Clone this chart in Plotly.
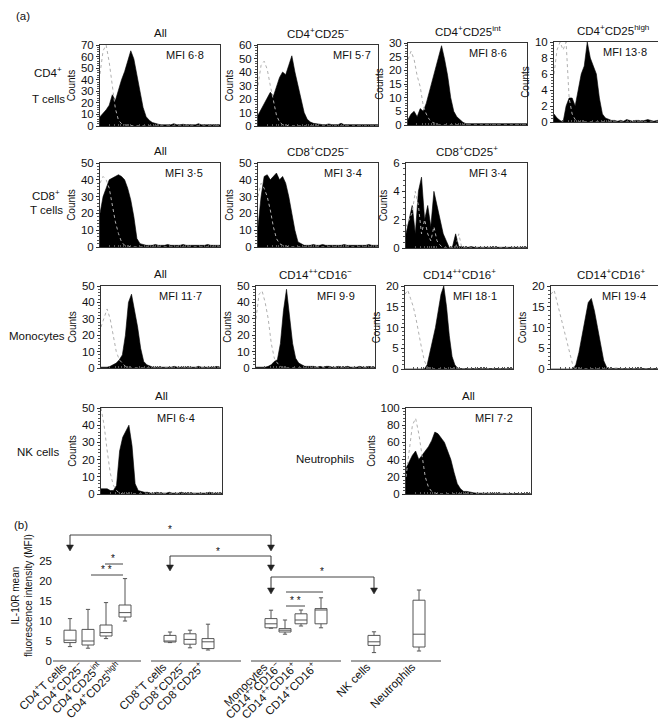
import numpy as np
import plotly.graph_objects as go

W, H = 666, 724
FONT = "Liberation Sans, Arial, sans-serif"

# ---------------- DATA: histograms (40 channels each, counts) ----------------
cd4_all_black = [8,11,14,18,27,22,32,40,47,55,65,58,45,30,16,8,5,3,2,1.5,1,1,1.5,1,2,1,1,1.5,1,1,1,1,2,1,1,1,1.5,1,1,1]
cd4_all_iso = [45,65,70,55,35,15,5,2,1,0.5,0,0,0,0,0,0,0,0,0,0,0,0,0,0,0,0,0,0,0,0,0,0,0,0,0,0,0,0,0,0]
cd4_neg_black = [8,12,16,20,25,22,30,36,40,38,45,52,40,30,18,10,5,3,2,1.5,1,1,1,1.5,1,1,1,2,1,1,1,1.5,1,1,1,1,1,1.5,1,1]
cd4_neg_iso = [30,45,48,42,30,18,8,3,1,0.5,0,0,0,0,0,0,0,0,0,0,0,0,0,0,0,0,0,0,0,0,0,0,0,0,0,0,0,0,0,0]
cd4_int_black = [2,4,5,3,6,5,8,12,16,20,25,29,24,18,10,5,3,2,1,0.5,0.5,0.5,0.3,0.5,0.5,0.3,0.5,0.5,0.3,0.5,0.5,0.3,0.5,0.5,0.5,0.3,0.5,0.5,0.5,0.5]
cd4_int_iso = [24,27,24,18,14,7,4,2,1,0.5,0,0,0,0,0,0,0,0,0,0,0,0,0,0,0,0,0,0,0,0,0,0,0,0,0,0,0,0,0,0]
cd4_high_black = [1,0.5,0.2,0,2,3,3,2,4,6,7,10,8,7,6,3,1,0.5,0.3,0.2,0.2,0.1,0.2,0.1,0.3,0.2,0.1,0.2,0.2,0.1,0.2,0.3,0.2,0.1,0.2,0.2,0.1,0.2,0.2,0.2]
cd4_high_iso = [6,9,10,9,10,3,1,0.3,0,0,0,0,0,0,0,0,0,0,0,0,0,0,0,0,0,0,0,0,0,0,0,0,0,0,0,0,0,0,0,0]
cd8_all_black = [20,30,35,40,41,42,43,42,40,35,28,18,5,2,1.5,1,1,1,1.5,1,1,1,1.5,1,1,1,1,1.5,1,1,1,1,1,1,1,1.5,1,1,1,1]
cd8_all_iso = [38,42,40,35,25,15,8,3,1,0.5,0,0,0,0,0,0,0,0,0,0,0,0,0,0,0,0,0,0,0,0,0,0,0,0,0,0,0,0,0,0]
cd8_neg_black = [12,30,42,43,40,42,44,40,42,38,30,20,10,3,2,1,1,1,1.5,1,1,1.5,1,1,1,1,1,1,1.5,1,1,1,1,1,1,1,1.5,1,1,1]
cd8_neg_iso = [30,38,35,30,22,12,5,2,1,0.5,0,0,0,0,0,0,0,0,0,0,0,0,0,0,0,0,0,0,0,0,0,0,0,0,0,0,0,0,0,0]
cd8_pos_black = [1,2,3,1,4,5,2,3,1.5,4,3,2,1,0.5,0,0.1,1,0.1,0.05,0.05,0.05,0.1,0.05,0.05,0.05,0.1,0.05,0.05,0.1,0.05,0.05,0.1,0.05,0.1,0.05,0.05,0.05,0.05,0.05,0.05]
cd8_pos_iso = [1.5,2,2.5,4,3,1,2,1,0.5,1.5,0.5,0.2,0,0,0,0,0,1,0,0,0,0,0,0,0,0,0,0,0,0,0,0,0,0,0,0,0,0,0,0]
mono_all_black = [0.5,0.5,0.5,1,2,3,5,8,20,40,45,35,25,12,4,2,1,0.5,0.5,0.5,0.5,0.5,0.5,0.5,1,0.5,0.5,0.5,0.5,0.5,0.5,0.5,1,0.5,0.5,0.5,0.5,0.5,1,0.5]
mono_all_iso = [25,30,36,30,20,10,5,3,1,0.5,0,0,0,0,0,0,0,0,0,0,0,0,0,0,0,0,0,0,0,0,0,0,0,0,0,0,0,0,0,0]
cd14pp16n_black = [0.5,0.5,0.5,0.5,1,2,4,5,15,35,48,30,15,6,3,2,1,1,1,1,0.5,1,0.5,1,1,0.5,0.5,1,0.5,0.5,1,0.5,0.5,0.5,1,0.5,0.5,1,0.5,0.5]
cd14pp16n_iso = [30,45,47,40,30,15,6,3,1,0.5,0,0,0,0,0,0,0,0,0,0,0,0,0,0,0,0,0,0,0,0,0,0,0,0,0,0,0,0,0,0]
cd14pp16p_black = [0,0,0,0,0,0,0,0,1,4,7,10,14,18,20,15,8,3,1,0.2,0.1,0.1,0.2,0.1,0.1,0.1,0.2,0.1,0.1,0.1,0.1,0.2,0.1,0.1,0.1,0.1,0.1,0.2,0.1,0.1]
cd14pp16p_iso = [18,19,17,15,12,8,5,2,0.5,0,0,0,0,0,0,0,0,0,0,0,0,0,0,0,0,0,0,0,0,0,0,0,0,0,0,0,0,0,0,0]
cd14p16p_black = [0,0,0,0,0,0,0,0,1,4,8,12,16,17,14,10,6,2,0.3,0.1,0.1,0.2,0.1,0.1,0.2,0.1,0.1,0.1,0.2,0.1,0.1,0.1,0.2,0.1,0.1,0.1,0.2,0.1,0.1,0.1]
cd14p16p_iso = [18,19,16,13,10,7,4,1,0,0,0,0,0,0,0,0,0,0,0,0,0,0,0,0,0,0,0,0,0,0,0,0,0,0,0,0,0,0,0,0]
nk_all_black = [3,3,3,2,2,5,25,33,37,40,28,6,2,1.5,1,1,0.5,0.5,1,0.5,0.5,0.5,1,0.5,0.5,0.5,1,0.5,0.5,0.5,0.5,0.5,0.5,0.5,0.5,1,0.5,0.5,0.5,0.5]
nk_all_iso = [50,40,25,12,5,2,0.5,0,0,0,0,0,0,0,0,0,0,0,0,0,0,0,0,0,0,0,0,0,0,0,0,0,0,0,0,0,0,0,0,0]
neut_all_black = [30,38,45,50,40,45,50,55,62,72,70,65,60,50,40,25,12,6,3,3,2,1.5,1,1,1,1,1,0.5,1,0.5,0.5,1,0.5,0.5,0.5,1,0.5,0.5,0.5,0.5]
neut_all_iso = [20,50,80,88,70,45,20,8,3,1,0,0,0,0,0,0,0,0,0,0,0,0,0,0,0,0,0,0,0,0,0,0,0,0,0,0,0,0,0,0]

hist_titles = ["All", "CD4<sup>+</sup>CD25<sup>−</sup>", "CD4<sup>+</sup>CD25<sup>int</sup>", "CD4<sup>+</sup>CD25<sup>high</sup>",
               "All", "CD8<sup>+</sup>CD25<sup>−</sup>", "CD8<sup>+</sup>CD25<sup>+</sup>",
               "All", "CD14<sup>++</sup>CD16<sup>−</sup>", "CD14<sup>++</sup>CD16<sup>+</sup>", "CD14<sup>+</sup>CD16<sup>+</sup>",
               "All", "All"]
mfi_values = ["6·8", "5·7", "8·6", "13·8", "3·5", "3·4", "3·4", "11·7", "9·9", "18·1", "19·4", "6·4", "7·2"]
hist_black = [cd4_all_black, cd4_neg_black, cd4_int_black, cd4_high_black, cd8_all_black, cd8_neg_black, cd8_pos_black,
              mono_all_black, cd14pp16n_black, cd14pp16p_black, cd14p16p_black, nk_all_black, neut_all_black]
hist_iso = [cd4_all_iso, cd4_neg_iso, cd4_int_iso, cd4_high_iso, cd8_all_iso, cd8_neg_iso, cd8_pos_iso,
            mono_all_iso, cd14pp16n_iso, cd14pp16p_iso, cd14p16p_iso, nk_all_iso, neut_all_iso]
y_max = [70, 60, 30, 10, 50, 50, 6, 50, 50, 20, 20, 50, 100]
y_dtick = [10, 10, 5, 2, 10, 10, 2, 10, 10, 5, 5, 10, 20]

# ---------------- DATA: box plot (b) ----------------
box_labels = ["CD4<sup>+</sup>T cells", "CD4<sup>+</sup>CD25<sup>−</sup>", "CD4<sup>+</sup>CD25<sup>int</sup>", "CD4<sup>+</sup>CD25<sup>high</sup>",
              "CD8<sup>+</sup>T cells", "CD8<sup>+</sup>CD25<sup>−</sup>", "CD8<sup>+</sup>CD25<sup>+</sup>",
              "Monocytes", "CD14<sup>++</sup>CD16<sup>−</sup>", "CD14<sup>++</sup>CD16<sup>+</sup>", "CD14<sup>+</sup>CD16<sup>+</sup>",
              "NK cells", "Neutrophils"]
box_low = [3.6, 3.2, 5.6, 10.0, 4.6, 3.3, 2.75, 8.2, 6.7, 8.75, 8.3, 2.1, 2.5]
box_q1 = [4.6, 4.0, 6.25, 11.0, 4.75, 4.2, 3.1, 8.3, 7.25, 9.3, 9.3, 3.9, 3.5]
box_med = [5.2, 5.0, 7.1, 12.1, 5.0, 5.4, 4.8, 9.3, 7.7, 10.25, 12.75, 4.8, 6.7]
box_q3 = [7.7, 7.9, 9.0, 14.0, 6.4, 6.8, 5.6, 10.6, 8.1, 11.8, 13.1, 6.4, 15.2]
box_high = [10.6, 12.9, 14.6, 20.6, 7.25, 7.7, 9.2, 12.7, 10.25, 12.75, 15.8, 7.3, 17.75]
y_ticks_b = [0, 5, 10, 15, 20, 25]

# ---------------- LAYOUT (pixel boxes: left, right, top, bottom) ----------------
hist_boxes = [(92, 212, 37, 118), (250, 370, 37, 118), (400, 519, 35, 117), (546, 664, 34, 114),
              (92, 212, 155, 239), (250, 370, 155, 239), (398, 519, 155, 240),
              (93, 212, 278, 360), (248, 367, 278, 360), (397, 505, 278, 361), (543, 664, 278, 361),
              (93, 214, 400, 486), (398, 523, 400, 486)]
mfi_xfrac = [0.71, 0.78, 0.67, 0.60, 0.70, 0.71, 0.68, 0.67, 0.67, 0.65, 0.60, 0.62, 0.70]
box_pos = [62, 80, 98, 117, 162, 182, 200, 263, 277, 293, 313, 366, 411]
group_lines = [(45, 133), (143, 233), (243, 333), (343, 433)]


def dom_x(a, b):
    return [a / W, b / W]


def dom_y(t, b):
    return [1 - b / H, 1 - t / H]


fig = go.Figure()
layout = {}
annotations = []
shapes = []

n_ch = len(cd4_all_black)
chan = np.arange(n_ch)
decade = (n_ch - 1) / 4.0
log_ticks = [d * decade + decade * np.log10(k) for d in range(4) for k in range(1, 10)] + [n_ch - 1]

for i, (l, r, t, b) in enumerate(hist_boxes):
    k = i + 1
    xa = "x" if k == 1 else f"x{k}"
    ya = "y" if k == 1 else f"y{k}"
    fig.add_trace(go.Scatter(x=chan, y=hist_black[i], mode="lines", fill="tozeroy",
                             fillcolor="black", line=dict(color="black", width=0.6),
                             xaxis=xa, yaxis=ya, showlegend=False, hoverinfo="skip"))
    fig.add_trace(go.Scatter(x=chan, y=hist_iso[i], mode="lines",
                             line=dict(color="#b0b0b0", width=1, dash="dot"),
                             xaxis=xa, yaxis=ya, showlegend=False, hoverinfo="skip"))
    layout["xaxis" if k == 1 else f"xaxis{k}"] = dict(
        domain=dom_x(l, r), anchor=ya, range=[0, n_ch - 1], showgrid=False, zeroline=False,
        showline=True, mirror=True, linecolor="#333", linewidth=1, automargin=False,
        tickvals=log_ticks, ticks="inside", ticklen=2, tickcolor="#555", showticklabels=False)
    layout["yaxis" if k == 1 else f"yaxis{k}"] = dict(
        domain=dom_y(t, b), anchor=xa, range=[0, y_max[i]], dtick=y_dtick[i], showgrid=False,
        zeroline=False, showline=True, mirror=True, linecolor="#333", linewidth=1, automargin=False,
        ticks="outside", ticklen=3, tickcolor="#333",
        minor=dict(ticks="outside", ticklen=2, dtick=y_dtick[i] / 5, tickcolor="#555"),
        tickfont=dict(size=11.5, color="#111"),
        title=dict(text="Counts", font=dict(size=10, color="#111"), standoff=3))
    annotations.append(dict(text=hist_titles[i], xref="paper", yref="paper",
                            x=(l + r) / 2 / W, y=1 - (t - 12) / H, showarrow=False,
                            font=dict(size=11.5, color="#111"), xanchor="center", yanchor="middle"))
    annotations.append(dict(text="MFI " + mfi_values[i], xref=f"{xa} domain", yref=f"{ya} domain",
                            x=mfi_xfrac[i], y=0.88, showarrow=False,
                            font=dict(size=11, color="#111"), xanchor="center", yanchor="middle"))


def ptext(txt, x, y, size=11.5, angle=0, xanchor="center"):
    annotations.append(dict(text=txt, xref="paper", yref="paper", x=x / W, y=1 - y / H,
                            showarrow=False, font=dict(size=size, color="#111"),
                            xanchor=xanchor, yanchor="middle", textangle=angle))


ptext("(a)", 6, 8, xanchor="left")
ptext("CD4<sup>+</sup>", 40, 64)
ptext("T cells", 40, 91)
ptext("CD8<sup>+</sup>", 38, 187)
ptext("T cells", 38, 202)
ptext("Monocytes", 29, 328)
ptext("NK cells", 30, 444)
ptext("Neutrophils", 317, 451)
ptext("(b)", 4, 517, xanchor="left")

# ---------------- Panel (b) ----------------
kb = 14
fig.add_trace(go.Box(x=box_pos, q1=box_q1, median=box_med, q3=box_q3,
                     lowerfence=box_low, upperfence=box_high, width=12, whiskerwidth=0.35,
                     line=dict(color="#555", width=1), fillcolor="white",
                     xaxis=f"x{kb}", yaxis=f"y{kb}", showlegend=False, hoverinfo="skip",
                     boxpoints=False))

b_top, b_bot = 515, 656
y0px = 653
ppu = 4.0
layout[f"xaxis{kb}"] = dict(domain=dom_x(45, 440), anchor=f"y{kb}", range=[45, 440], automargin=False,
                            showgrid=False, zeroline=False, showline=False,
                            tickvals=box_pos, ticktext=box_labels, tickangle=-45, ticks="",
                            ticklabelstandoff=-7, ticklabelshift=-7,
                            tickfont=dict(size=11.5, color="#111"))
layout[f"yaxis{kb}"] = dict(domain=dom_y(b_top, b_bot), anchor=f"x{kb}", automargin=False,
                            range=[(y0px - b_bot) / ppu, (y0px - b_top) / ppu],
                            showgrid=False, zeroline=False, showline=False,
                            tickvals=y_ticks_b, ticks="", tickfont=dict(size=11.5, color="#111"))


def v(p):
    return (y0px - p) / ppu


def hline(xa, xb, yp):
    shapes.append(dict(type="line", xref=f"x{kb}", yref=f"y{kb}", x0=xa, x1=xb, y0=v(yp), y1=v(yp),
                       line=dict(color="#444", width=1)))


for a, bb in group_lines:
    shapes.append(dict(type="line", xref=f"x{kb}", yref=f"y{kb}", x0=a, x1=bb, y0=0, y1=0,
                       line=dict(color="#444", width=1)))


def arrow(xx, top, tip):
    shapes.append(dict(type="line", xref=f"x{kb}", yref=f"y{kb}", x0=xx, x1=xx, y0=v(top), y1=v(tip - 5),
                       line=dict(color="#333", width=1)))
    path = f"M {xx-3.5},{v(tip-6)} L {xx+3.5},{v(tip-6)} L {xx},{v(tip)} Z"
    shapes.append(dict(type="path", xref=f"x{kb}", yref=f"y{kb}", path=path,
                       fillcolor="#222", line=dict(color="#222", width=0.5)))


def star(txt, sx, sy):
    annotations.append(dict(x=sx, y=v(sy), xref=f"x{kb}", yref=f"y{kb}", text=txt,
                            showarrow=False, font=dict(size=10, color="#111")))


def bracket(xa, xb, top, tip, txt, sx, sy):
    hline(xa, xb, top)
    arrow(xa, top, tip)
    arrow(xb, top, tip)
    star(txt, sx, sy)


bracket(62, 263, 527, 543, "*", 162, 521)
bracket(162, 263, 548, 563, "*", 210, 543)
bracket(263, 366, 569, 586, "*", 314, 563)

hline(97, 115, 556)
star("*", 105, 550)
hline(83, 115, 567)
star("* *", 98, 561)
hline(278, 315, 584)
hline(278, 297, 598)
star("* *", 287, 592)

annotations.append(dict(text="IL-10R mean<br>fluorescence intensity (MFI)", xref="paper", yref="paper",
                        x=14 / W, y=1 - 588 / H, showarrow=False, textangle=-90,
                        font=dict(size=10, color="#111"), xanchor="center", yanchor="middle"))

fig.update_layout(width=W, height=H, margin=dict(l=0, r=0, t=0, b=0, autoexpand=False),
                  paper_bgcolor="white", plot_bgcolor="white",
                  font=dict(family=FONT, color="#111"),
                  annotations=annotations, shapes=shapes, **layout)

fig.write_html("out.html")
